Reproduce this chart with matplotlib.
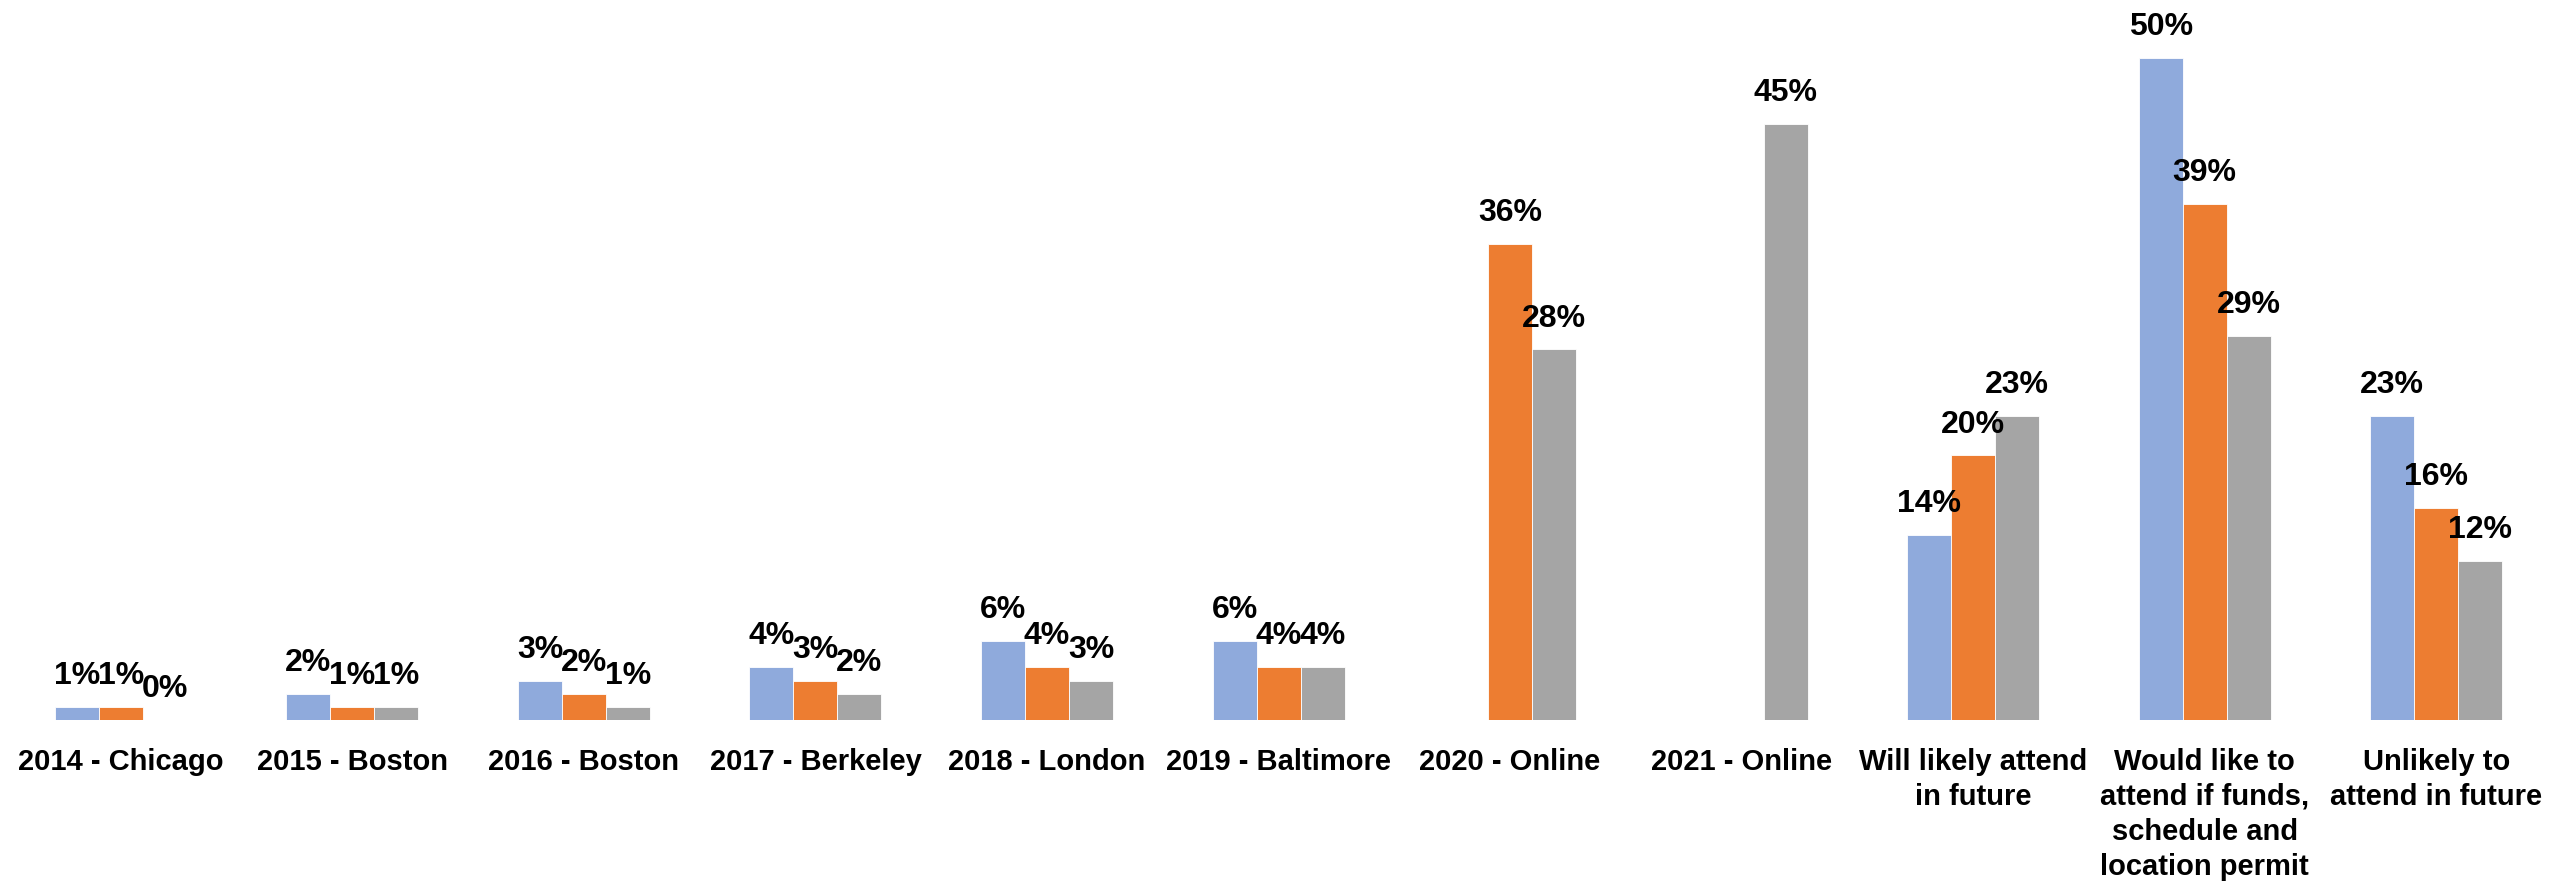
import matplotlib.pyplot as plt
import numpy as np

# categories and survey shares (%), None = no bar / no label
categories = ["2014 - Chicago", "2015 - Boston", "2016 - Boston", "2017 - Berkeley",
              "2018 - London", "2019 - Baltimore", "2020 - Online", "2021 - Online",
              "Will likely attend\nin future",
              "Would like to\nattend if funds,\nschedule and\nlocation permit",
              "Unlikely to\nattend in future"]
series_a = [1, 2, 3, 4, 6, 6, None, None, 14, 50, 23]
series_b = [1, 1, 2, 3, 4, 4, 36, None, 20, 39, 16]
series_c = [0, 1, 1, 2, 3, 4, 28, 45, 23, 29, 12]

colors = ["#8FAADC", "#ED7D31", "#A5A5A5"]
plt.rcParams['font.family'] = ['Liberation Sans', 'DejaVu Sans']

fig = plt.figure(figsize=(25.52, 8.95), dpi=100)
ax = fig.add_axes([0.002, 0.194, 0.998, 0.814])

x = np.arange(len(categories))
w = 0.19
for k, vals in enumerate([series_a, series_b, series_c]):
    pos = x + (k - 1) * w
    h = [v if v is not None else 0 for v in vals]
    ax.bar(pos, h, width=w, color=colors[k], edgecolor="white", linewidth=0.6)
    for i, v in enumerate(vals):
        if v is None:
            continue
        ax.annotate(f"{v}%", (pos[i], v), xytext=(0, 23), textcoords="offset points",
                    ha="center", va="center", fontsize=23, fontweight="bold",
                    annotation_clip=False)

ax.set_xlim(-0.5, len(categories) - 0.5)
ax.set_ylim(0, 55)
ax.set_xticks(x)
ax.set_xticklabels([])
for i, lab in enumerate(categories):
    ax.text(i, -2.0, lab, ha="center", va="top", fontsize=21, fontweight="bold",
            linespacing=1.32)
ax.tick_params(length=0)
ax.set_yticks([])
for s in ax.spines.values():
    s.set_visible(False)

fig.savefig("out.png", dpi=100)
